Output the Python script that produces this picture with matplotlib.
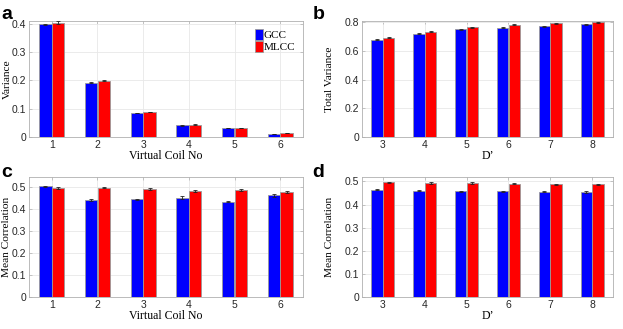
import numpy as np
import matplotlib.pyplot as plt

# panel a / c: virtual coil index, panel b / d: D'
coils = [1, 2, 3, 4, 5, 6]
dprime = [3, 4, 5, 6, 7, 8]

var_gcc = [0.398, 0.192, 0.085, 0.041, 0.031, 0.010]
var_mlcc = [0.404, 0.199, 0.088, 0.043, 0.031, 0.014]
var_gcc_err = [0.003, 0.002, 0.001, 0.001, 0.001, 0.001]
var_mlcc_err = [0.005, 0.001, 0.001, 0.001, 0.001, 0.001]

tot_gcc = [0.678, 0.721, 0.753, 0.762, 0.774, 0.786]
tot_mlcc = [0.692, 0.736, 0.767, 0.784, 0.793, 0.800]
tot_gcc_err = [0.003, 0.003, 0.004, 0.003, 0.003, 0.003]
tot_mlcc_err = [0.003, 0.003, 0.004, 0.003, 0.004, 0.003]

corr_gcc = [0.505, 0.442, 0.445, 0.453, 0.434, 0.463]
corr_mlcc = [0.497, 0.498, 0.491, 0.483, 0.488, 0.479]
corr_gcc_err = [0.002, 0.003, 0.002, 0.006, 0.002, 0.008]
corr_mlcc_err = [0.003, 0.002, 0.004, 0.004, 0.003, 0.005]

dcorr_gcc = [0.464, 0.459, 0.457, 0.457, 0.455, 0.454]
dcorr_mlcc = [0.496, 0.493, 0.493, 0.490, 0.488, 0.487]
dcorr_gcc_err = [0.002, 0.002, 0.002, 0.002, 0.002, 0.003]
dcorr_mlcc_err = [0.002, 0.003, 0.003, 0.002, 0.002, 0.002]

serif = ['Liberation Serif', 'DejaVu Serif']
sans = ['Liberation Sans', 'DejaVu Sans']

fig = plt.figure(figsize=(6.23, 3.29), dpi=100)

def panel(rect, x, g, m, ge, me, ylim, yticks, ylabel, xlabel, letter, letter_pos, ylab_x, legend=False):
    ax = fig.add_axes(rect)
    pos = np.arange(len(x)) + 1
    w = 0.27
    ax.bar(pos - 0.14, g, w, color='#0000ff', edgecolor='#9a9a9a', linewidth=0.6, label='GCC', zorder=3)
    ax.bar(pos + 0.14, m, w, color='#ff0000', edgecolor='#9a9a9a', linewidth=0.6, label='MLCC', zorder=3)
    ax.errorbar(pos - 0.14, g, yerr=ge, fmt='none', ecolor='#222222', elinewidth=0.6, capsize=1.5, capthick=0.6, zorder=4)
    ax.errorbar(pos + 0.14, m, yerr=me, fmt='none', ecolor='#222222', elinewidth=0.6, capsize=1.5, capthick=0.6, zorder=4)
    ax.set_xlim(0.5, len(x) + 0.5)
    ax.set_ylim(*ylim)
    ax.set_xticks(pos)
    ax.set_xticklabels([str(v) for v in x], family=sans, fontsize=7.5, color='#262626')
    ax.set_yticks(yticks)
    ax.set_yticklabels(['0' if t == 0 else ('%g' % t) for t in yticks], family=sans, fontsize=7.5, color='#262626')
    ax.set_ylabel(ylabel, family=serif, fontsize=8.2)
    ax.yaxis.set_label_coords(ylab_x, 0.5)
    ax.set_xlabel(xlabel, family=serif, fontsize=8.5, labelpad=0)
    ax.grid(True, color='#e8e8e8', linewidth=0.6, zorder=0)
    ax.set_axisbelow(True)
    for s in ax.spines.values():
        s.set_color('#b0b0b0')
        s.set_linewidth(0.6)
    ax.tick_params(direction='in', length=2.5, width=0.5, color='#b0b0b0', top=True, right=True, pad=2)
    fig.text(letter_pos[0], letter_pos[1], letter, family=sans, fontsize=14, fontweight='bold', va='center', ha='left')
    if legend:
        ax.legend(loc='upper right', prop={'family': serif, 'size': 8}, frameon=False,
                  handlelength=0.7, handleheight=1.1, handletextpad=0.1, labelspacing=0.1,
                  borderaxespad=0.3)
    return ax

panel([0.0465, 0.584, 0.44, 0.352], coils, var_gcc, var_mlcc, var_gcc_err, var_mlcc_err,
      (0, 0.41), [0, 0.1, 0.2, 0.3, 0.4], 'Variance', 'Virtual Coil No', 'a', (0.002, 0.955), -0.064, legend=True)
panel([0.581, 0.584, 0.403, 0.352], dprime, tot_gcc, tot_mlcc, tot_gcc_err, tot_mlcc_err,
      (0, 0.81), [0, 0.2, 0.4, 0.6, 0.8], 'Total Variance', "D’", 'b', (0.502, 0.955), -0.11)
panel([0.0465, 0.097, 0.44, 0.365], coils, corr_gcc, corr_mlcc, corr_gcc_err, corr_mlcc_err,
      (0, 0.547), [0, 0.1, 0.2, 0.3, 0.4, 0.5], 'Mean Correlation', 'Virtual Coil No', 'c', (0.002, 0.475), -0.064)
panel([0.581, 0.097, 0.403, 0.365], dprime, dcorr_gcc, dcorr_mlcc, dcorr_gcc_err, dcorr_mlcc_err,
      (0, 0.519), [0, 0.1, 0.2, 0.3, 0.4, 0.5], 'Mean Correlation', "D’", 'd', (0.502, 0.475), -0.11)

fig.savefig('out.png', dpi=100)
